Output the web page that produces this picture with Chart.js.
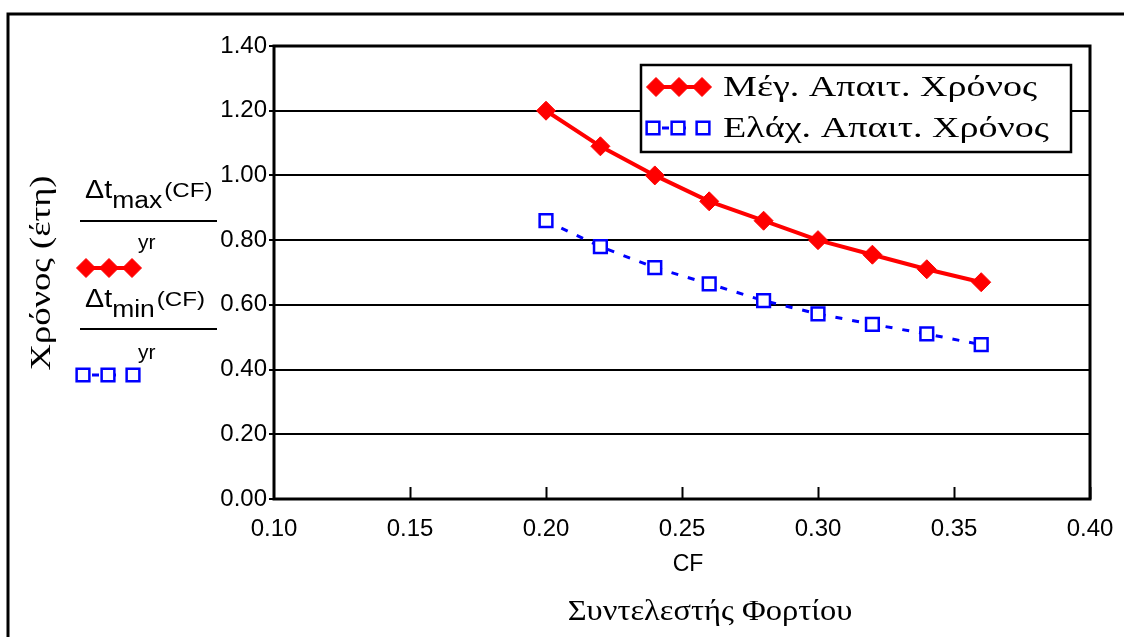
<!DOCTYPE html>
<html>
<head>
<meta charset="utf-8">
<script src="https://cdn.jsdelivr.net/npm/chart.js@4"></script>
<style>
  html, body { margin: 0; padding: 0; background: #fff; }
  #wrap { width: 1124px; height: 637px; }
</style>
</head>
<body>
<div id="wrap"><canvas id="TimeChart" width="1124" height="637"></canvas></div>
<script>
// data
const cf = [0.20, 0.22, 0.24, 0.26, 0.28, 0.30, 0.32, 0.34, 0.36];
const maxTime = [1.20, 1.09, 1.00, 0.92, 0.86, 0.80, 0.755, 0.71, 0.67];
const minTime = [0.86, 0.78, 0.715, 0.665, 0.613, 0.572, 0.54, 0.51, 0.477];
const maxLabel = "Μέγ. Απαιτ. Χρόνος";
const minLabel = "Ελάχ. Απαιτ. Χρόνος";
const xTitle = "CF";
const xTitle2 = "Συντελεστής Φορτίου";
const yTitle = "Χρόνος (έτη)";

const SANS = "'Liberation Sans', Arial, sans-serif";
const SERIF = "'Liberation Serif', 'Times New Roman', serif";

function toXY(xs, ys) {
	return xs.map((x, i) => ({ x: x, y: ys[i] }));
}

// text stretched horizontally (the original fonts run wider)
function wideText(ctx, txt, x, y, sx) {
	ctx.save();
	ctx.translate(x, y);
	ctx.scale(sx, 1);
	ctx.fillText(txt, 0, 0);
	ctx.restore();
	return ctx.measureText(txt).width * sx;
}

// extra drawing: frames, inner x ticks, legend box, left-side notes, titles
const decor = {
	id: 'decor',
	afterDraw(chart) {
		const ctx = chart.ctx;
		const a = chart.chartArea;
		const xs = chart.scales.x;
		ctx.save();

		// outer frame
		ctx.strokeStyle = '#000';
		ctx.lineWidth = 3;
		ctx.strokeRect(8, 14, 1200, 700);

		// plot box
		ctx.strokeRect(a.left, a.top, a.right - a.left, a.bottom - a.top);

		// inner ticks on the x axis
		ctx.lineWidth = 2;
		for (let v = 0.15; v < 0.40; v += 0.05) {
			const px = Math.round(xs.getPixelForValue(v)) + 0.5;
			ctx.beginPath();
			ctx.moveTo(px, a.bottom);
			ctx.lineTo(px, a.bottom - 12);
			ctx.stroke();
		}

		// legend
		const ds = chart.data.datasets;
		ctx.fillStyle = '#fff';
		ctx.fillRect(641, 65, 430, 87);
		ctx.lineWidth = 2.5;
		ctx.strokeStyle = '#000';
		ctx.strokeRect(641, 65, 430, 87);
		sample(ctx, ds[0], 656, 702, 87, 0);
		sample(ctx, ds[1], 653, 703, 128, 8);
		ctx.fillStyle = '#000';
		ctx.font = '30px ' + SERIF;
		ctx.textBaseline = 'middle';
		ctx.textAlign = 'left';
		wideText(ctx, ds[0].label, 723, 88, 1.27);
		wideText(ctx, ds[1].label, 723, 129, 1.27);

		// left-side notes
		note(ctx, 'max', 198, 221, 249);
		sample(ctx, ds[0], 86, 132, 268, 0);
		note(ctx, 'min', 307, 329, 359);
		sample(ctx, ds[1], 83, 133, 375, 8);

		// titles
		ctx.fillStyle = '#000';
		ctx.textAlign = 'center';
		ctx.textBaseline = 'middle';
		ctx.font = '23px ' + SANS;
		ctx.fillText(xTitle, 688, 565);
		ctx.font = '29px ' + SERIF;
		wideText(ctx, xTitle2, 710, 612, 1.12);
		ctx.save();
		ctx.translate(42, 273);
		ctx.rotate(-Math.PI / 2);
		ctx.font = '30px ' + SERIF;
		wideText(ctx, yTitle, 0, 0, 1.22);
		ctx.restore();

		ctx.restore();
	}
};

function sample(ctx, d, x0, x1, y, dashOffset) {
	ctx.save();
	ctx.strokeStyle = d.borderColor;
	ctx.lineWidth = d.borderWidth;
	ctx.setLineDash(d.borderDash || []);
	ctx.lineDashOffset = dashOffset;
	ctx.beginPath();
	ctx.moveTo(x0, y);
	ctx.lineTo(x1, y);
	ctx.stroke();
	ctx.setLineDash([]);
	const mid = (x0 + x1) / 2;
	[x0, mid, x1].forEach(px => {
		ctx.fillStyle = d.pointBackgroundColor;
		ctx.strokeStyle = d.pointBorderColor;
		ctx.lineWidth = d.pointBorderWidth;
		Chart.helpers.drawPoint(ctx, { pointStyle: d.pointStyle, radius: d.pointRadius, borderWidth: d.pointBorderWidth, rotation: 0 }, px, y);
	});
	ctx.restore();
}

function note(ctx, sub, base, lineY, yrBase) {
	ctx.save();
	ctx.fillStyle = '#000';
	ctx.textAlign = 'left';
	ctx.textBaseline = 'alphabetic';
	const sx = 1.15;
	ctx.font = '25px ' + SANS;
	let x = 85;
	x += wideText(ctx, 'Δt', x, base, sx);
	ctx.font = '23px ' + SANS;
	x += wideText(ctx, sub, x, base + 10, sx);
	ctx.font = '21px ' + SANS;
	wideText(ctx, '(CF)', x + 2, base - 1, sx);
	ctx.lineWidth = 2;
	ctx.strokeStyle = '#000';
	ctx.beginPath();
	ctx.moveTo(80, lineY);
	ctx.lineTo(217, lineY);
	ctx.stroke();
	ctx.font = '20px ' + SANS;
	wideText(ctx, 'yr', 138, yrBase, 1.05);
	ctx.restore();
}

const CTX = document.getElementById("TimeChart");

let TimeChart = new Chart(CTX, {
	type: 'line',
	data: {
		datasets: [
			{
				label: maxLabel,
				data: toXY(cf, maxTime),
				borderColor: "#ff0000",
				backgroundColor: "#ff0000",
				borderWidth: 4,
				pointStyle: 'rectRot',
				pointRadius: 9.5,
				pointBackgroundColor: "#ff0000",
				pointBorderColor: "#ff0000",
				pointBorderWidth: 1,
				tension: 0,
				fill: false
			},
			{
				label: minLabel,
				data: toXY(cf, minTime),
				borderColor: "#0000ff",
				backgroundColor: "#ffffff",
				borderWidth: 3,
				borderDash: [7, 10],
				pointStyle: 'rect',
				pointRadius: 9,
				pointBackgroundColor: "#ffffff",
				pointBorderColor: "#0000ff",
				pointBorderWidth: 2.5,
				tension: 0,
				fill: false
			}
		]
	},
	options: {
		responsive: false,
		animation: false,
		layout: { padding: { top: 46, right: 34, left: 0, bottom: 0 } },
		plugins: {
			legend: { display: false },
			tooltip: { enabled: false }
		},
		scales: {
			x: {
				type: 'linear',
				min: 0.10,
				max: 0.40,
				afterFit: s => { s.height = 138; },
				ticks: {
					stepSize: 0.05,
					callback: v => v.toFixed(2),
					color: '#000',
					font: { family: SANS, size: 24 },
					padding: 8,
					maxRotation: 0
				},
				grid: { display: false },
				border: { display: false }
			},
			y: {
				min: 0,
				max: 1.40,
				afterFit: s => { s.width = 274; },
				ticks: {
					stepSize: 0.20,
					callback: v => v.toFixed(2),
					color: '#000',
					font: { family: SANS, size: 24 },
					padding: 2
				},
				grid: { color: '#000', lineWidth: 2, tickLength: 5 },
				border: { display: false }
			}
		}
	},
	plugins: [decor]
});
</script>
</body>
</html>
